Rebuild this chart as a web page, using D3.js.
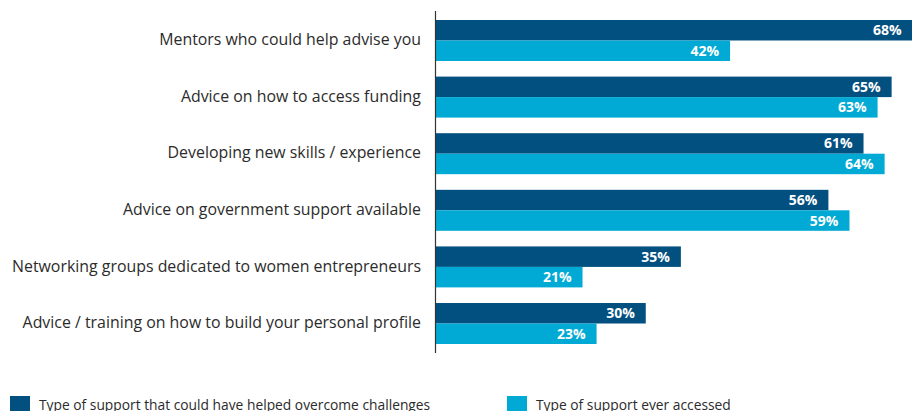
<!DOCTYPE html>
<html>
<head>
<meta charset="utf-8">
<script src="https://cdn.jsdelivr.net/npm/d3@7"></script>
<style>
  html, body { margin: 0; padding: 0; background: #fff; }
  svg { display: block; }
</style>
</head>
<body>
<svg id="chart" width="912" height="411"></svg>
<script>
// Support types and the share of respondents for each series (%)
const categories = [
  "Mentors who could help advise you",
  "Advice on how to access funding",
  "Developing new skills / experience",
  "Advice on government support available",
  "Networking groups dedicated to women entrepreneurs",
  "Advice / training on how to build your personal profile"
];
const seriesNames = [
  "Type of support that could have helped overcome challenges",
  "Type of support ever accessed"
];
const couldHaveHelped = [68, 65, 61, 56, 35, 30];
const everAccessed = [42, 63, 64, 59, 21, 23];
const seriesColors = ["#02507f", "#00aad4"];

const svg = d3.select("#chart");
const W = 912, H = 411;
const axisX = 435;

const rows = categories.map((c, i) => ({
  category: c,
  values: [couldHaveHelped[i], everAccessed[i]]
}));

const x = d3.scaleLinear().domain([0, 100]).range([axisX, axisX + 702.5]);

const y = d3.scaleBand()
  .domain(categories)
  .range([11, 353])
  .paddingInner(0.276)
  .paddingOuter(0.159);

const ySub = d3.scaleBand()
  .domain([0, 1])
  .range([0, y.bandwidth()])
  .padding(0);

const groups = svg.selectAll("g.row")
  .data(rows)
  .join("g")
  .attr("class", "row")
  .attr("transform", d => `translate(0,${y(d.category)})`);

// Bars
groups.selectAll("rect")
  .data(d => d.values.map((v, k) => ({ v, k })))
  .join("rect")
  .attr("x", x(0))
  .attr("y", d => ySub(d.k))
  .attr("width", d => x(d.v) - x(0))
  .attr("height", ySub.bandwidth())
  .attr("fill", d => seriesColors[d.k]);

// Value labels inside bar ends
groups.selectAll("text.val")
  .data(d => d.values.map((v, k) => ({ v, k })))
  .join("text")
  .attr("class", "val")
  .attr("x", d => Math.min(x(d.v) - 11, W - 3))
  .attr("y", d => ySub(d.k) + ySub.bandwidth() / 2)
  .attr("dy", "0.36em")
  .attr("text-anchor", "end")
  .attr("fill", "#fff")
  .style("font-family", "'Open Sans', sans-serif")
  .style("font-weight", "700")
  .style("font-size", "14px")
  .text(d => d.v + "%");

// Category axis on the left
const yAxis = d3.axisLeft(y).tickSize(0).tickPadding(14);
const axisG = svg.append("g")
  .attr("transform", `translate(${axisX},0)`)
  .call(yAxis);
axisG.select(".domain")
  .attr("d", `M0.5,${y.range()[0]}V${y.range()[1]}`)
  .attr("stroke", "#333")
  .attr("stroke-width", 1.2);
axisG.selectAll(".tick text")
  .attr("fill", "#2b2b2b")
  .attr("dy", "0.3em")
  .style("font-family", "'Open Sans', sans-serif")
  .style("font-size", "15.9px");

// Legend
const legendX = [10, 507];
const legend = svg.selectAll("g.legend")
  .data(seriesNames)
  .join("g")
  .attr("class", "legend")
  .attr("transform", (d, i) => `translate(${legendX[i]},396)`);
legend.append("rect")
  .attr("width", 20)
  .attr("height", 20)
  .attr("fill", (d, i) => seriesColors[i]);
legend.append("text")
  .attr("x", 29)
  .attr("y", 14)
  .attr("fill", "#2b2b2b")
  .style("font-family", "'Open Sans', sans-serif")
  .style("font-size", "13.8px")
  .text(d => d);
</script>
</body>
</html>
